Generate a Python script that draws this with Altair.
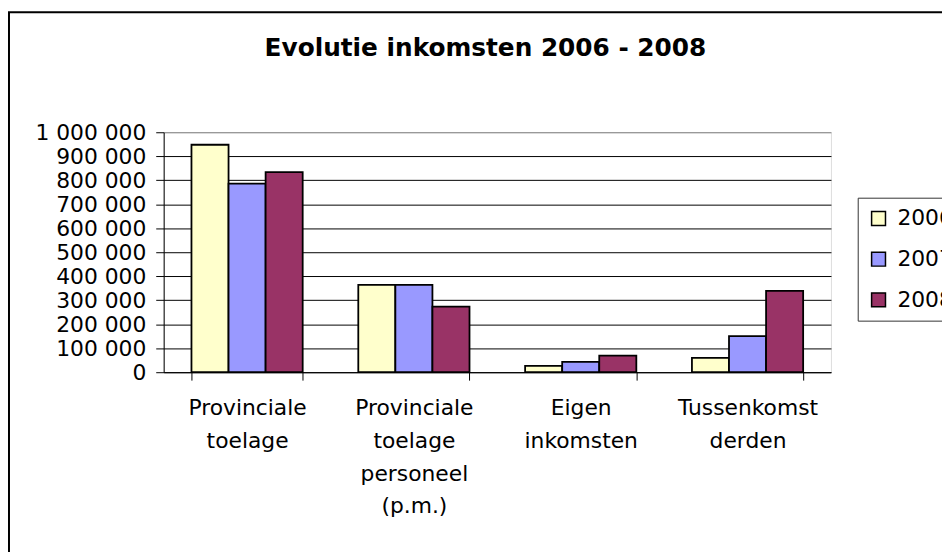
import altair as alt
import pandas as pd

categories = [
    "Provinciale\ntoelage",
    "Provinciale\ntoelage\npersoneel\n(p.m.)",
    "Eigen\ninkomsten",
    "Tussenkomst\nderden",
]
years = ["2006", "2007", "2008"]
v2006 = [948000, 364000, 26000, 60000]
v2007 = [786000, 364000, 43000, 150000]
v2008 = [834000, 273000, 69000, 339000]
colors = ["#FFFFCC", "#9999FF", "#993366"]
y_ticks = [0, 100000, 200000, 300000, 400000, 500000, 600000, 700000, 800000, 900000, 1000000]
title_text = "Evolutie inkomsten 2006 - 2008"

rows = []
for yr, vals in zip(years, [v2006, v2007, v2008]):
    for c, v in zip(categories, vals):
        rows.append({"cat": c, "year": yr, "value": v})
df = pd.DataFrame(rows)

FONT = "DejaVu Sans"

bars = alt.Chart(df).mark_bar(stroke="black", strokeWidth=1.8).encode(
    x=alt.X(
        "cat:N",
        sort=categories,
        scale=alt.Scale(paddingInner=1 / 3, paddingOuter=1 / 6),
        axis=alt.Axis(
            title=None,
            labelAngle=0,
            labelExpr="split(datum.label, '\\n')",
            tickBand="extent",
            tickSize=8,
            labelPadding=18,
            labelLineHeight=33,
            labelFontSize=22,
            labelFont=FONT,
            labelColor="black",
            tickColor="black",
            domainColor="black",
            grid=False,
        ),
    ),
    xOffset=alt.XOffset("year:N", sort=years, scale=alt.Scale(paddingInner=0, paddingOuter=0)),
    y=alt.Y(
        "value:Q",
        scale=alt.Scale(domain=[0, 1000000], nice=False),
        axis=alt.Axis(
            title=None,
            values=y_ticks,
            labelExpr="replace(format(datum.value, ','), /,/g, ' ')",
            tickSize=8,
            labelPadding=10,
            labelFontSize=22,
            labelFont=FONT,
            labelColor="black",
            tickColor="black",
            domainColor="black",
            grid=True,
            gridColor={"condition": {"test": "datum.value == 1000000", "value": "#808080"}, "value": "black"},
            gridWidth=1,
        ),
    ),
    color=alt.Color(
        "year:N",
        scale=alt.Scale(domain=years, range=colors),
        legend=alt.Legend(
            title=None,
            orient="none",
            legendX=700,
            legendY=66,
            padding=10,
            strokeColor="#333333",
            fillColor="white",
            labelFontSize=22,
            labelFont=FONT,
            labelColor="black",
            symbolType="square",
            symbolSize=196,
            symbolStrokeColor="black",
            symbolStrokeWidth=1.5,
            rowPadding=19,
            labelOffset=8,
        ),
    ),
)

frame = alt.Chart(pd.DataFrame({"k": [0]})).mark_rect(
    fill="white", fillOpacity=0, stroke="black", strokeWidth=2
).encode(
    x=alt.value(-156),
    x2=alt.value(1400),
    y=alt.value(-121),
    y2=alt.value(1000),
)

chart = alt.layer(frame, bars).properties(
    width=673,
    height=242,
    autosize=alt.AutoSizeParams(type="none"),
    padding={"left": 157, "top": 123, "right": 112, "bottom": 179},
    title=alt.TitleParams(
        text=title_text,
        font=FONT,
        fontSize=25,
        fontWeight="bold",
        color="black",
        anchor="middle",
        frame="group",
        baseline="alphabetic",
        offset=-70,
        dx=-12,
    ),
).configure_view(
    fill="#C0C0C0", stroke="#808080", strokeWidth=1
).configure(background="white")

chart.save("out.html", embed_options={"renderer": "svg", "actions": False})
